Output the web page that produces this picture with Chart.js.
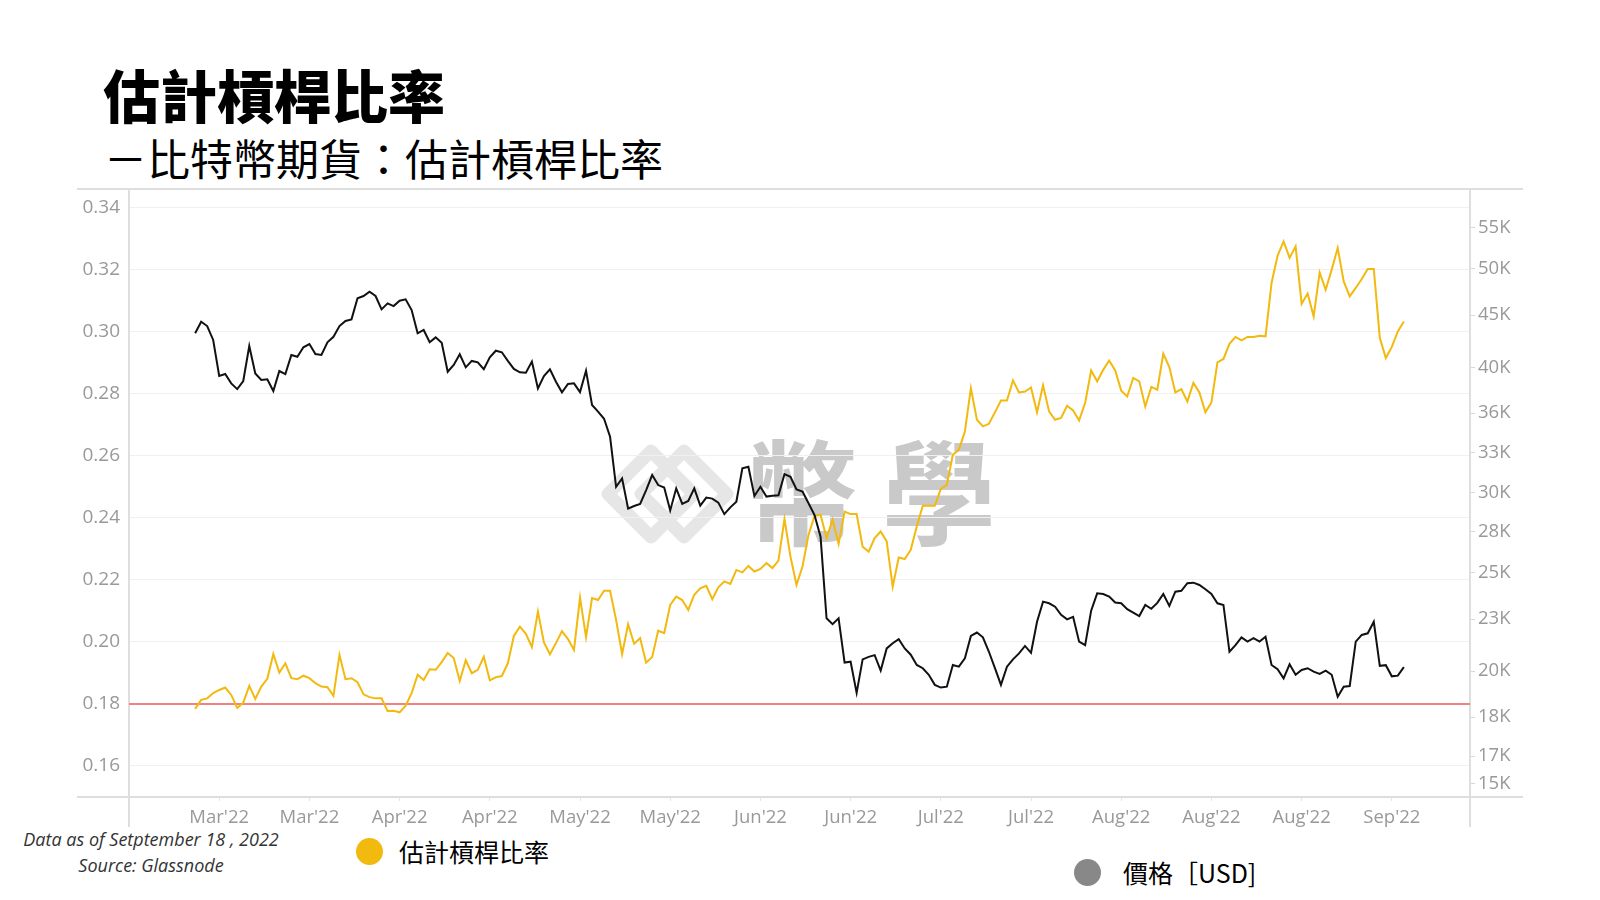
<!DOCTYPE html>
<html>
<head>
<meta charset="utf-8">
<script src="https://cdn.jsdelivr.net/npm/chart.js@4.4.0/dist/chart.umd.min.js"></script>
<style>
  body { margin: 0; width: 1600px; height: 900px; overflow: hidden; position: relative; background: #fff;
         font-family: "Noto Sans CJK TC", sans-serif; color: #000; }
  #chart { position: absolute; left: 0; top: 0; z-index: 1; }
  .title { position: absolute; left: 103px; top: 65px; font-size: 57px; font-weight: 900; line-height: 1; }
  .subtitle { position: absolute; left: 104px; top: 136px; font-size: 43px; font-weight: 400; line-height: 1; }
  .note { position: absolute; left: 0; width: 302px; top: 826px; text-align: center; font-family: "Open Sans", sans-serif;
          font-style: italic; font-size: 18px; line-height: 26px; color: #333; }
  .legend { position: absolute; font-size: 25px; line-height: 1; display: flex; align-items: center; }
  .legend .dot { width: 27px; height: 27px; border-radius: 50%; margin-right: 22px; }
  .watermark { position: absolute; left: 0; top: 0; width: 1600px; height: 900px; z-index: 0; }
  .watermark .txt { position: absolute; left: 744px; top: 430px; font-size: 114px; font-weight: 700; line-height: 1;
                    color: #c9c9c9; letter-spacing: 24px; }
</style>
</head>
<body>
<div class="watermark">
  <svg width="1600" height="900" style="position:absolute;left:0;top:0">
    <g fill="none" stroke="#e6e6e6" stroke-width="13" stroke-linejoin="round">
      <path d="M608 494 L651 451 L694 494 L651 537 Z"/>
      <path d="M641 494 L684 451 L727 494 L684 537 Z"/>
    </g>
  </svg>
  <div class="txt">幣學</div>
</div>
<div class="title">估計槓桿比率</div>
<div class="subtitle">－比特幣期貨：估計槓桿比率</div>
<canvas id="chart" width="1600" height="900"></canvas>
<div class="note">Data as of Setptember 18 , 2022<br>Source: Glassnode</div>
<div class="legend" style="left:356px; top:838px;"><span class="dot" style="background:#f2b90f; margin-right:16px"></span>估計槓桿比率</div>
<div class="legend" style="left:1074px; top:859px;"><span class="dot" style="background:#888"></span>價格［USD]</div>
<script>
'use strict';

let canvasElem = document.getElementById('chart')

// x tick labels (one every 15 days)
const tickLabels = ["Mar'22", "Mar'22", "Apr'22", "Apr'22", "May'22", "May'22", "Jun'22", "Jun'22",
                    "Jul'22", "Jul'22", "Aug'22", "Aug'22", "Aug'22", "Sep'22"];

// left axis ticks
const ratioTicks = [0.16, 0.18, 0.20, 0.22, 0.24, 0.26, 0.28, 0.30, 0.32, 0.34];

// right axis ticks (log scale) and their labels
const priceTicks = [15000, 16010, 17540, 19530, 22050, 24560, 27030, 29610, 32510, 35690, 39650, 44870, 50000, 55000];
const priceTickLabels = ['15K', '17K', '18K', '20K', '23K', '25K', '28K', '30K', '33K', '36K', '40K', '45K', '50K', '55K'];

const threshold = 0.18;

// estimated leverage ratio, daily
const ratio = [
  0.1784, 0.1813, 0.1818, 0.1835, 0.1845, 0.1853, 0.1829, 0.1787, 0.1804, 0.1858,
  0.1816, 0.1856, 0.1881, 0.1961, 0.1901, 0.1931, 0.1883, 0.1880, 0.1891, 0.1883,
  0.1867, 0.1856, 0.1854, 0.1826, 0.1958, 0.1880, 0.1883, 0.1870, 0.1831, 0.1822,
  0.1818, 0.1818, 0.1777, 0.1778, 0.1773, 0.1794, 0.1835, 0.1894, 0.1877, 0.1912,
  0.1910, 0.1935, 0.1964, 0.1948, 0.1874, 0.1941, 0.1899, 0.1910, 0.1952, 0.1876,
  0.1886, 0.1890, 0.1931, 0.2019, 0.2049, 0.2026, 0.1983, 0.2098, 0.1998, 0.1960,
  0.1996, 0.2035, 0.2009, 0.1974, 0.2143, 0.2015, 0.2141, 0.2135, 0.2165, 0.2165,
  0.2071, 0.1961, 0.2057, 0.1994, 0.2012, 0.1933, 0.1951, 0.2036, 0.2028, 0.2119,
  0.2146, 0.2135, 0.2103, 0.2152, 0.2173, 0.2181, 0.2138, 0.2176, 0.2195, 0.2187,
  0.2232, 0.2224, 0.2245, 0.2227, 0.2235, 0.2254, 0.2238, 0.2262, 0.2396, 0.2275,
  0.2184, 0.2243, 0.2345, 0.2406, 0.2410, 0.2335, 0.2394, 0.2316, 0.2420, 0.2412,
  0.2412, 0.2307, 0.2291, 0.2335, 0.2356, 0.2324, 0.2178, 0.2272, 0.2267, 0.2297,
  0.2372, 0.2439, 0.2439, 0.2439, 0.2493, 0.2506, 0.2603, 0.2619, 0.2678, 0.2818,
  0.2716, 0.2695, 0.2703, 0.2740, 0.2778, 0.2778, 0.2843, 0.2804, 0.2807, 0.2820,
  0.2740, 0.2827, 0.2743, 0.2716, 0.2722, 0.2761, 0.2746, 0.2714, 0.2770, 0.2875,
  0.2840, 0.2877, 0.2907, 0.2875, 0.2810, 0.2791, 0.2851, 0.2840, 0.2759, 0.2822,
  0.2813, 0.2929, 0.2886, 0.2804, 0.2815, 0.2775, 0.2835, 0.2804, 0.2740, 0.2772,
  0.2901, 0.2912, 0.2961, 0.2983, 0.2972, 0.2983, 0.2983, 0.2987, 0.2985, 0.3157,
  0.3245, 0.3291, 0.3238, 0.3275, 0.3090, 0.3123, 0.3049, 0.3191, 0.3135, 0.3200,
  0.3270, 0.3162, 0.3114, 0.3141, 0.3170, 0.3202, 0.3202, 0.2980, 0.2915, 0.2951,
  0.3001, 0.3033
];

// BTC price in USD, daily
const price = [
  43000, 44170, 43730, 42330, 38910, 39090, 38250, 37740, 38460, 41740,
  39150, 38550, 38610, 37570, 39370, 39090, 40870, 40700, 41610, 41930,
  40960, 40870, 42100, 42650, 43730, 44250, 44420, 46660, 46910, 47390,
  46910, 45470, 46110, 45820, 46400, 46550, 45400, 43000, 43330, 42110,
  42590, 42060, 39300, 39930, 40940, 39710, 40310, 40180, 39530, 40640,
  41280, 41130, 40310, 39560, 39250, 39210, 40240, 37800, 38910, 39530,
  38400, 37460, 38190, 38250, 37480, 39400, 36360, 35800, 35210, 33760,
  30040, 30630, 28540, 28720, 28860, 29810, 30870, 30160, 29990, 28420,
  29930, 28860, 29060, 29930, 28740, 29290, 29220, 28950, 28180, 28630,
  29010, 31370, 31480, 29400, 30040, 29360, 29420, 29450, 30940, 30750,
  29860, 29700, 28900, 28120, 26730, 22090, 21790, 22090, 19920, 19960,
  18560, 20070, 20190, 20270, 19550, 20590, 20840, 21040, 20590, 20290,
  19810, 19660, 19360, 18910, 18790, 18830, 19810, 19730, 20120, 21200,
  21370, 21130, 20430, 19660, 18910, 19730, 20070, 20350, 20710, 20380,
  21910, 22970, 22880, 22700, 22270, 22040, 22170, 20920, 20750, 22490,
  23420, 23380, 23240, 22920, 22880, 22570, 22390, 22210, 22790, 22590,
  22900, 23380, 22740, 23510, 23560, 23980, 24010, 23880, 23640, 23380,
  22880, 22790, 20430, 20750, 21130, 20920, 21090, 20920, 21160, 19810,
  19610, 19200, 19840, 19360, 19580, 19660, 19500, 19400, 19550, 19360,
  18390, 18830, 18860, 20920, 21250, 21330, 21910, 19770, 19800, 19290,
  19320, 19710
];

const xMin = -11;
const xMax = 212;
const tickIdx = tickLabels.map((_, k) => 4 + 15 * k);

const axisFont = { family: 'Open Sans', size: 18.5 };

// light frame lines around the plot, like the original dashboard
const frameLines = {
  id: 'frameLines',
  beforeDatasetsDraw(chart) {
    const { ctx, chartArea: a } = chart;
    ctx.save();
    ctx.strokeStyle = '#dedede';
    ctx.lineWidth = 2;
    ctx.beginPath();
    ctx.moveTo(77, a.top); ctx.lineTo(1523, a.top);
    ctx.moveTo(77, a.bottom); ctx.lineTo(1523, a.bottom);
    ctx.moveTo(a.left, a.top); ctx.lineTo(a.left, a.bottom + 30);
    ctx.moveTo(a.right, a.top); ctx.lineTo(a.right, a.bottom + 30);
    ctx.stroke();
    ctx.restore();
  }
};

function renderChart() {
  const config = {
    type: 'line',
    data: {
      datasets: [
        {
          label: '價格［USD]',
          data: price.map((v, i) => ({ x: i, y: v })),
          yAxisID: 'y1',
          borderColor: '#111',
          borderWidth: 2,
          pointRadius: 0,
          order: 0
        },
        {
          label: '估計槓桿比率',
          data: ratio.map((v, i) => ({ x: i, y: v })),
          yAxisID: 'y',
          borderColor: '#f2b90f',
          borderWidth: 2,
          pointRadius: 0,
          order: 1
        },
        {
          label: 'threshold',
          data: [{ x: xMin, y: threshold }, { x: xMax, y: threshold }],
          yAxisID: 'y',
          borderColor: '#f08282',
          borderWidth: 2,
          pointRadius: 0,
          order: 2
        }
      ]
    },
    options: {
      responsive: false,
      animation: false,
      devicePixelRatio: 1,
      layout: { padding: { top: 189, left: 0, right: 0, bottom: 0 } },
      plugins: { legend: { display: false }, tooltip: { enabled: false } },
      scales: {
        x: {
          type: 'linear',
          min: xMin,
          max: xMax,
          afterBuildTicks: s => { s.ticks = tickIdx.map(v => ({ value: v })); },
          afterFit: s => { s.height = 103; },
          ticks: {
            autoSkip: false, maxRotation: 0, padding: 6, color: '#999', font: axisFont,
            callback: (v, i) => tickLabels[i]
          },
          grid: { drawOnChartArea: false, tickLength: 4, color: '#e4e4e4' },
          border: { display: false }
        },
        y: {
          position: 'left',
          min: 0.15,
          max: 0.346,
          afterBuildTicks: s => { s.ticks = ratioTicks.map(v => ({ value: v })); },
          afterFit: s => { s.width = 129; },
          ticks: { padding: 9, color: '#999', font: { family: 'Open Sans', size: 19 }, callback: v => v.toFixed(2) },
          grid: { color: '#f0f0f0', drawTicks: false },
          border: { display: false }
        },
        y1: {
          type: 'logarithmic',
          position: 'right',
          min: 14551,
          max: 60235,
          afterBuildTicks: s => { s.ticks = priceTicks.map(v => ({ value: v })); },
          afterFit: s => { s.width = 130; },
          ticks: { padding: 3, color: '#999', font: axisFont, callback: (v, i) => priceTickLabels[i] },
          grid: { drawOnChartArea: false, tickLength: 5, color: '#d8d8d8' },
          border: { display: false }
        }
      }
    },
    plugins: [frameLines]
  };

  new Chart(canvasElem, config);
}

renderChart();
</script>
</body>
</html>
